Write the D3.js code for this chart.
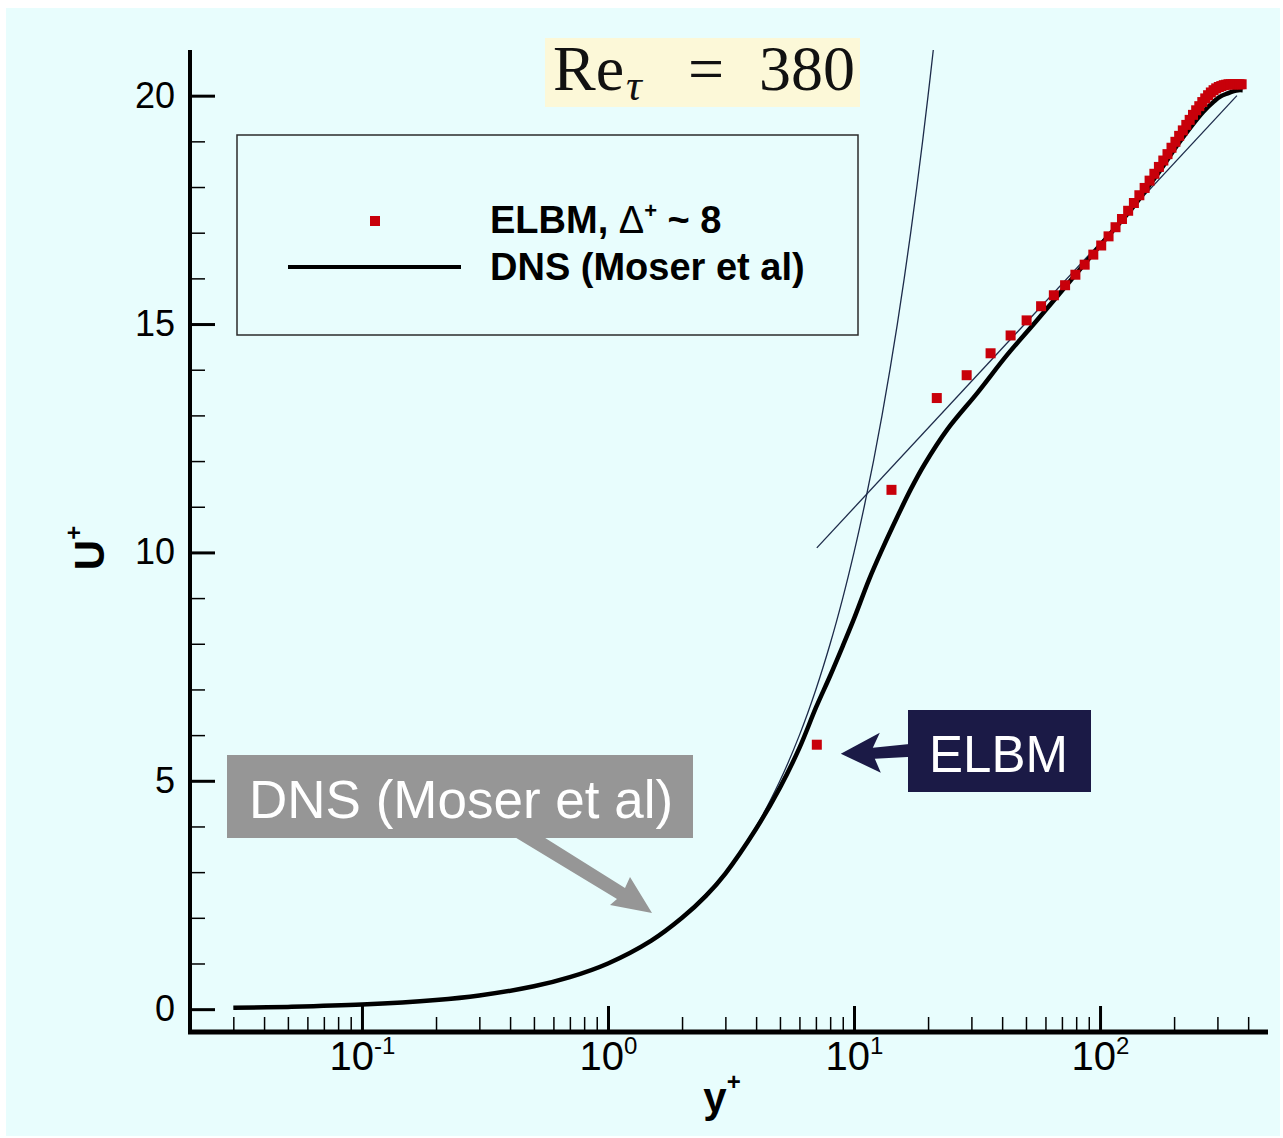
<!DOCTYPE html>
<html lang="en">
<head>
<meta charset="UTF-8">
<script src="https://d3js.org/d3.v7.min.js"></script>
<title>Mean velocity profile, Re_tau = 380</title>
<style>
  body { margin: 0; background: #fff; }
  svg text { font-family: "Liberation Sans", Arial, Helvetica, sans-serif; }
</style>
</head>
<body>
<svg width="1283" height="1138"></svg>
<script>
// DNS profile (Moser et al)
var dnsY = [0.03, 0.05, 0.1, 0.2, 0.3, 0.5, 0.7, 1, 1.5, 2, 2.5, 3, 4, 5, 6, 7, 8, 9, 10, 11.5, 13, 15, 17, 19.3, 24, 31.8, 42, 55, 80, 100, 133, 150, 175, 205, 235, 263, 290, 308, 330, 350, 365, 380];
var dnsU = [0.03, 0.05, 0.1, 0.2, 0.3, 0.5, 0.7, 1, 1.5, 2, 2.48, 2.97, 3.95, 4.85, 5.72, 6.6, 7.3, 7.95, 8.55, 9.4, 10.06, 10.78, 11.38, 11.92, 12.7, 13.5, 14.33, 15.06, 16.1, 16.72, 17.49, 17.86, 18.35, 18.9, 19.33, 19.65, 19.87, 19.98, 20.05, 20.1, 20.12, 20.12];

// ELBM points
var elbmY = [7.06, 14.2, 21.7, 28.7, 35.9, 43.3, 50.3, 57.6, 64.9, 72.1, 79.4, 86.6, 93.9, 101.1, 108.3, 115.6, 122.8, 130.1, 137.3, 144.5, 151.8, 159.0, 166.3, 173.5, 180.8, 188.0, 195.2, 202.5, 209.7, 217.0, 224.2, 231.4, 238.7, 245.9, 253.2, 260.4, 267.7, 274.9, 282.1, 289.4, 296.6, 303.9, 311.1, 318.3, 325.6, 332.8, 340.1, 347.3, 354.6, 361.8, 369.0, 376.3];
var elbmU = [5.79, 11.37, 13.38, 13.88, 14.36, 14.75, 15.08, 15.39, 15.63, 15.85, 16.08, 16.30, 16.52, 16.72, 16.92, 17.12, 17.30, 17.48, 17.65, 17.82, 17.98, 18.14, 18.29, 18.44, 18.58, 18.72, 18.86, 18.99, 19.12, 19.24, 19.36, 19.47, 19.58, 19.68, 19.77, 19.86, 19.94, 20.01, 20.07, 20.12, 20.16, 20.19, 20.21, 20.23, 20.24, 20.25, 20.25, 20.25, 20.25, 20.25, 20.25, 20.25];

// thin reference lines: U+ = y+ and log law
var linY = [2, 3, 4, 5, 6, 7, 8, 9, 10, 11, 12, 13, 14, 15, 16, 17, 18, 19, 20, 21];
var linU = [2, 3, 4, 5, 6, 7, 8, 9, 10, 11, 12, 13, 14, 15, 16, 17, 18, 19, 20, 21];
var logY = [7.06, 360];
var logU = [10.1, 20.0];

var yTicks = [0, 5, 10, 15, 20];
var yMinor = [1, 2, 3, 4, 6, 7, 8, 9, 11, 12, 13, 14, 16, 17, 18, 19];
var xTicks = [0.1, 1, 10, 100];
var xTickExp = ["-1", "0", "1", "2"];
var xMinor = [0.03, 0.04, 0.05, 0.06, 0.07, 0.08, 0.09, 0.2, 0.3, 0.4, 0.5, 0.6, 0.7, 0.8, 0.9,
              2, 3, 4, 5, 6, 7, 8, 9, 20, 30, 40, 50, 60, 70, 80, 90, 200, 300, 400];

var svg = d3.select("svg");

svg.append("rect").attr("x", 6).attr("y", 8).attr("width", 1274).attr("height", 1128).attr("fill", "#e8fdfd");

var x = d3.scaleLog().domain([0.02, 500]).range([190, 1272]);
var y = d3.scaleLinear().domain([-0.5, 21]).range([1032, 50]);

var navy = "#1b1a46";

// title
svg.append("rect").attr("x", 545).attr("y", 38).attr("width", 315).attr("height", 69).attr("fill", "#fcf8d8");
var serif = "'Liberation Serif', 'Times New Roman', serif";
function title(tx, ty, size, str, italic) {
    svg.append("text").attr("x", tx).attr("y", ty)
        .style("font-family", serif).style("font-size", size + "px")
        .style("font-style", italic ? "italic" : "normal")
        .attr("fill", "#111").text(str);
}
title(553, 90, 64, "Re", false);
title(626, 100, 44, "τ", true);
title(688, 90, 64, "=", false);
title(759, 90, 64, "380", false);

// legend
svg.append("rect").attr("x", 237).attr("y", 135).attr("width", 621).attr("height", 200)
    .attr("fill", "none").attr("stroke", "#2b2b2b").attr("stroke-width", 1.5);
svg.append("rect").attr("x", 370).attr("y", 216).attr("width", 10).attr("height", 10).attr("fill", "#c8000a");
svg.append("line").attr("x1", 288).attr("x2", 461).attr("y1", 267).attr("y2", 267).attr("stroke", "#000").attr("stroke-width", 4);
var lt = svg.append("text").attr("x", 490).attr("y", 233).attr("font-size", 38).attr("font-weight", "bold");
lt.append("tspan").text("ELBM, ");
lt.append("tspan").attr("font-weight", "normal").text("Δ");
lt.append("tspan").attr("dy", -15).attr("font-size", 22).text("+");
lt.append("tspan").attr("dy", 15).text(" ~ 8");
svg.append("text").attr("x", 490).attr("y", 280).attr("font-size", 38).attr("font-weight", "bold").text("DNS (Moser et al)");

// thin reference lines
var line = d3.line().x(d => x(d[0])).y(d => y(d[1])).curve(d3.curveCatmullRom.alpha(0.5));
svg.append("path").datum(linY.map((v, i) => [v, linU[i]])).attr("d", line)
    .attr("fill", "none").attr("stroke", "#1d2b4a").attr("stroke-width", 1.3);
svg.append("path").datum(logY.map((v, i) => [v, logU[i]])).attr("d", d3.line().x(d => x(d[0])).y(d => y(d[1])))
    .attr("fill", "none").attr("stroke", "#1d2b4a").attr("stroke-width", 1.3);

// DNS curve
svg.append("path").datum(dnsY.map((v, i) => [v, dnsU[i]])).attr("d", line)
    .attr("fill", "none").attr("stroke", "#000").attr("stroke-width", 4.5).attr("stroke-linejoin", "round");

// ELBM squares
svg.append("g").selectAll("rect").data(elbmY).enter().append("rect")
    .attr("x", d => x(d) - 5)
    .attr("y", (d, i) => y(elbmU[i]) - 5)
    .attr("width", 10).attr("height", 10)
    .attr("fill", "#c8000a");

// axes
var yAxis = svg.append("g").attr("transform", "translate(190,0)")
    .call(d3.axisLeft(y).tickValues(yTicks).tickSizeInner(-25).tickSizeOuter(0).tickPadding(15));
yAxis.select(".domain").remove();
yAxis.selectAll(".tick line").attr("stroke", "#000").attr("stroke-width", 3);
yAxis.selectAll(".tick text").attr("fill", "#000")
    .style("font-size", "36px").style("font-family", "'Liberation Sans', Arial, sans-serif");

var yMin = svg.append("g").attr("transform", "translate(190,0)")
    .call(d3.axisLeft(y).tickValues(yMinor).tickSizeInner(-15).tickSizeOuter(0).tickFormat(""));
yMin.select(".domain").remove();
yMin.selectAll(".tick line").attr("stroke", "#000").attr("stroke-width", 1.5);

var xAxis = svg.append("g").attr("transform", "translate(0,1032)")
    .call(d3.axisBottom(x).tickValues(xTicks).tickSizeInner(-26).tickSizeOuter(0).tickFormat(""));
xAxis.select(".domain").remove();
xAxis.selectAll(".tick line").attr("stroke", "#000").attr("stroke-width", 3);
var narrow = "'Liberation Sans Narrow', 'Arial Narrow', sans-serif";
xAxis.selectAll(".tick").each(function(d, i) {
    var t = d3.select(this).append("text").attr("y", 38).attr("fill", "#000")
        .style("font-family", narrow).style("font-size", "40px").attr("text-anchor", "middle");
    t.append("tspan").text("10");
    t.append("tspan").attr("dy", -16).style("font-size", "24px").text(xTickExp[i]);
});

var xMin = svg.append("g").attr("transform", "translate(0,1032)")
    .call(d3.axisBottom(x).tickValues(xMinor).tickSizeInner(-15).tickSizeOuter(0).tickFormat(""));
xMin.select(".domain").remove();
xMin.selectAll(".tick line").attr("stroke", "#000").attr("stroke-width", 1.5);

// axis lines
svg.append("line").attr("x1", 190).attr("x2", 190).attr("y1", y(21)).attr("y2", 1034).attr("stroke", "#000").attr("stroke-width", 4);
svg.append("line").attr("x1", 188).attr("x2", 1268).attr("y1", 1032).attr("y2", 1032).attr("stroke", "#000").attr("stroke-width", 5);

// axis titles
var xt = svg.append("text").attr("x", 722).attr("y", 1112).attr("text-anchor", "middle").attr("font-size", 42).attr("font-weight", "bold");
xt.append("tspan").text("y");
xt.append("tspan").attr("dy", -22).attr("font-size", 24).text("+");
var yt = svg.append("text").attr("transform", "translate(104,548) rotate(-90)").attr("text-anchor", "middle").attr("font-size", 42).attr("font-weight", "bold");
yt.append("tspan").text("U");
yt.append("tspan").attr("dy", -22).attr("font-size", 24).text("+");

// ELBM call-out
var tipE = [x(elbmY[0]) + 24, y(elbmU[0]) + 9];
svg.append("path").attr("fill", navy)
    .attr("d", "M" + tipE[0] + "," + tipE[1] +
        " L" + (tipE[0] + 39) + "," + (tipE[1] - 21) +
        " L" + (tipE[0] + 32) + "," + (tipE[1] - 6) +
        " L" + 912 + "," + (tipE[1] - 10) +
        " L" + 912 + "," + (tipE[1] + 3) +
        " L" + (tipE[0] + 34) + "," + (tipE[1] + 5) +
        " L" + (tipE[0] + 40) + "," + (tipE[1] + 19) + " Z");
svg.append("rect").attr("x", 908).attr("y", 710).attr("width", 183).attr("height", 82).attr("fill", navy);
svg.append("text").attr("x", 929).attr("y", 772).attr("font-size", 51).attr("fill", "#fff").text("ELBM");

// DNS call-out
var gray = "#969696";
svg.append("path").attr("fill", gray)
    .attr("d", "M513,836 L542,836 L625,888 L630,877 L652,913 L610,905 L617,899 Z");
svg.append("rect").attr("x", 227).attr("y", 755).attr("width", 466).attr("height", 83).attr("fill", gray);
svg.append("text").attr("x", 249).attr("y", 818).attr("font-size", 53).attr("fill", "#fff").text("DNS (Moser et al)");
</script>
</body>
</html>
